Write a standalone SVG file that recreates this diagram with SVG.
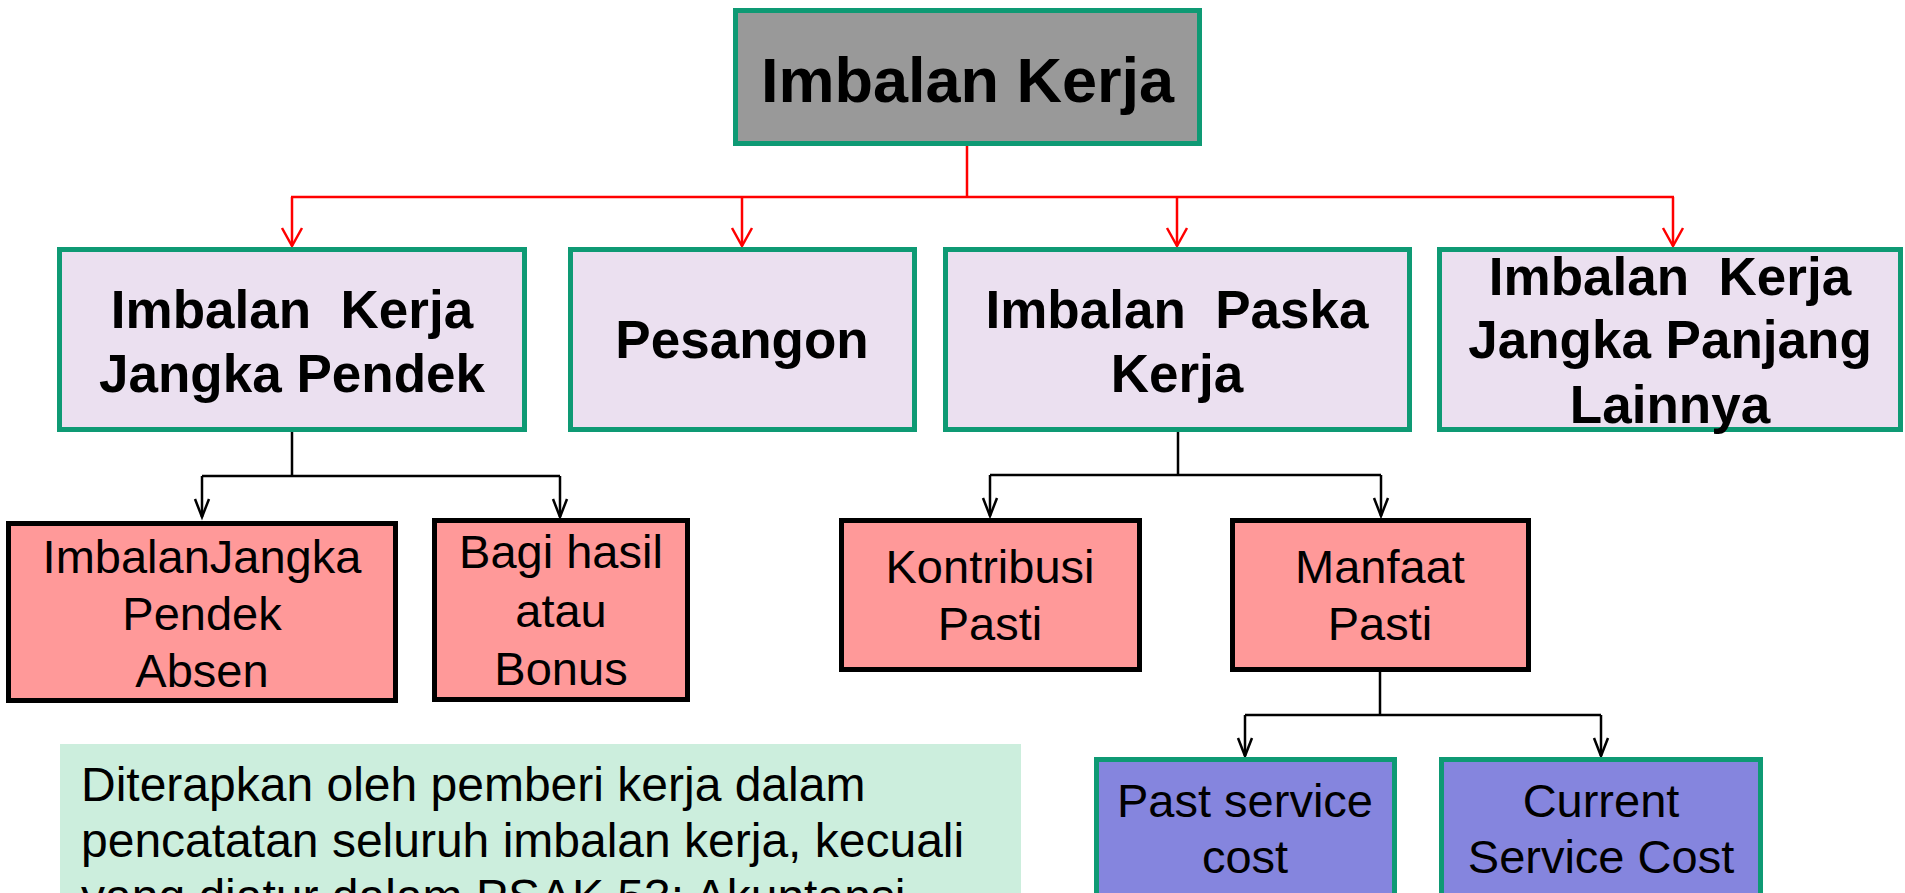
<svg xmlns="http://www.w3.org/2000/svg" width="1905" height="893" viewBox="0 0 1905 893">
<style>
text{font-family:"Liberation Sans",Arial,sans-serif;fill:#000;white-space:pre}
.b{font-weight:bold;font-size:53px;text-anchor:middle}
.r{font-size:47px;text-anchor:middle}
.n{font-size:48px}
.top{fill:#999999;stroke:#0E9A74;stroke-width:5}
.lav{fill:#EBE0F0;stroke:#0E9A74;stroke-width:5}
.pink{fill:#FF9999;stroke:#000;stroke-width:5}
.blue{fill:#8585DE;stroke:#0E9A74;stroke-width:5}
.red{fill:none;stroke:#FF0000;stroke-width:2.5}
.blk{fill:none;stroke:#000;stroke-width:2.5}
</style>
<defs>
<marker id="ar" viewBox="-20 -12 22 24" refX="0" refY="0" markerWidth="22" markerHeight="24" markerUnits="userSpaceOnUse" orient="auto" overflow="visible">
<path d="M-18,-10 L0,0 L-18,10" fill="none" stroke="#FF0000" stroke-width="2.5"/>
</marker>
<marker id="ak" viewBox="-20 -12 22 24" refX="0" refY="0" markerWidth="22" markerHeight="24" markerUnits="userSpaceOnUse" orient="auto" overflow="visible">
<path d="M-18,-7 L0,0 L-18,7" fill="none" stroke="#000" stroke-width="2.5"/>
</marker>
</defs>
<g id="connectors">
<path class="red" d="M967,146 V197 M291,197 H1674"/>
<path class="red" d="M292,197 V246" marker-end="url(#ar)"/>
<path class="red" d="M742,197 V246" marker-end="url(#ar)"/>
<path class="red" d="M1177,197 V246" marker-end="url(#ar)"/>
<path class="red" d="M1673,197 V246" marker-end="url(#ar)"/>
<path class="blk" d="M292,432 V476 M202,476 H560"/>
<path class="blk" d="M202,476 V517" marker-end="url(#ak)"/>
<path class="blk" d="M560,476 V517" marker-end="url(#ak)"/>
<path class="blk" d="M1178,432 V475 M990,475 H1381"/>
<path class="blk" d="M990,475 V516" marker-end="url(#ak)"/>
<path class="blk" d="M1381,475 V516" marker-end="url(#ak)"/>
<path class="blk" d="M1380,672 V715 M1245,715 H1601"/>
<path class="blk" d="M1245,715 V756" marker-end="url(#ak)"/>
<path class="blk" d="M1601,715 V756" marker-end="url(#ak)"/>
</g>
<g id="imbalan-kerja">
<rect class="top" x="735.5" y="10.5" width="464" height="133"/>
<text x="967.5" y="102" style="font-weight:bold;font-size:63px;text-anchor:middle">Imbalan Kerja</text>
</g>
<g id="jangka-pendek">
<rect class="lav" x="59.5" y="249.5" width="465" height="180"/>
<text class="b" x="292" y="328">Imbalan  Kerja</text>
<text class="b" x="292" y="392">Jangka Pendek</text>
</g>
<g id="pesangon">
<rect class="lav" x="570.5" y="249.5" width="344" height="180"/>
<text class="b" x="742" y="358">Pesangon</text>
</g>
<g id="paska-kerja">
<rect class="lav" x="945.5" y="249.5" width="464" height="180"/>
<text class="b" x="1177" y="328">Imbalan  Paska</text>
<text class="b" x="1177" y="392">Kerja</text>
</g>
<g id="jangka-panjang">
<rect class="lav" x="1439.5" y="249.5" width="461" height="180"/>
<text class="b" x="1670" y="295">Imbalan  Kerja</text>
<text class="b" x="1670" y="358">Jangka Panjang</text>
<text class="b" x="1670" y="423">Lainnya</text>
</g>
<g id="pendek-absen">
<rect class="pink" x="8.5" y="523.5" width="387" height="177"/>
<text class="r" x="202" y="573">ImbalanJangka</text>
<text class="r" x="202" y="630">Pendek</text>
<text class="r" x="202" y="687">Absen</text>
</g>
<g id="bagi-hasil">
<rect class="pink" x="434.5" y="520.5" width="253" height="179"/>
<text class="r" x="561" y="568">Bagi hasil</text>
<text class="r" x="561" y="627">atau</text>
<text class="r" x="561" y="685">Bonus</text>
</g>
<g id="kontribusi-pasti">
<rect class="pink" x="841.5" y="520.5" width="298" height="149"/>
<text class="r" x="990" y="583">Kontribusi</text>
<text class="r" x="990" y="640">Pasti</text>
</g>
<g id="manfaat-pasti">
<rect class="pink" x="1232.5" y="520.5" width="296" height="149"/>
<text class="r" x="1380" y="583">Manfaat</text>
<text class="r" x="1380" y="640">Pasti</text>
</g>
<g id="past-service">
<rect class="blue" x="1096.5" y="759.5" width="298" height="160"/>
<text class="r" x="1245" y="817">Past service</text>
<text class="r" x="1245" y="873">cost</text>
</g>
<g id="current-service">
<rect class="blue" x="1441.5" y="759.5" width="319" height="160"/>
<text class="r" x="1601" y="817">Current</text>
<text class="r" x="1601" y="873">Service Cost</text>
</g>
<g id="note">
<rect x="60" y="744" width="961" height="160" fill="#CCEEDD"/>
<text class="n" x="81" y="801">Diterapkan oleh pemberi kerja dalam</text>
<text class="n" x="81" y="857">pencatatan seluruh imbalan kerja, kecuali</text>
<text class="n" x="81" y="913">yang diatur dalam PSAK 53: Akuntansi</text>
</g>
</svg>
